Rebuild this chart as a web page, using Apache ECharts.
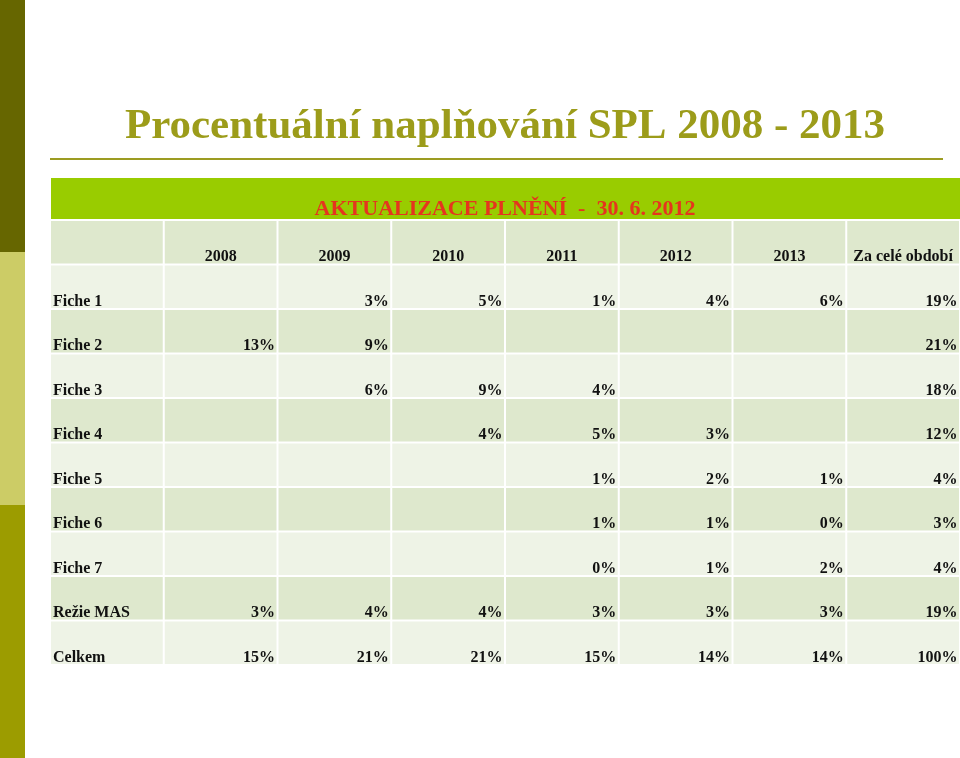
<!DOCTYPE html>
<html><head><meta charset="utf-8">
<script src="https://cdn.jsdelivr.net/npm/echarts@6/dist/echarts.min.js"></script>
<style>html,body{margin:0;padding:0;background:#fff}#c{width:960px;height:758px}</style>
</head><body><div id="c"></div>
<script>
const titleText = 'Procentuální naplňování SPL 2008 - 2013';
const bandText = 'AKTUALIZACE PLNĚNÍ  -  30. 6. 2012';
const columns = ['2008', '2009', '2010', '2011', '2012', '2013', 'Za celé období'];
const rowLabels = ['Fiche 1', 'Fiche 2', 'Fiche 3', 'Fiche 4', 'Fiche 5', 'Fiche 6', 'Fiche 7', 'Režie MAS', 'Celkem'];
const fiche1 = [null, 3, 5, 1, 4, 6, 19];
const fiche2 = [13, 9, null, null, null, null, 21];
const fiche3 = [null, 6, 9, 4, null, null, 18];
const fiche4 = [null, null, 4, 5, 3, null, 12];
const fiche5 = [null, null, null, 1, 2, 1, 4];
const fiche6 = [null, null, null, 1, 1, 0, 3];
const fiche7 = [null, null, null, 0, 1, 2, 4];
const rezieMAS = [3, 4, 4, 3, 3, 3, 19];
const celkem = [15, 21, 21, 15, 14, 14, 100];
const rowValues = [fiche1, fiche2, fiche3, fiche4, fiche5, fiche6, fiche7, rezieMAS, celkem];

const FONT = '"Liberation Serif", "DejaVu Serif", serif';
const darkRow = '#DEE8CD';
const lightRow = '#EEF3E6';

// build cells: [col, row] and texts
const cellData = [];
const cellText = [];
cellData.push([0, 0]); cellText.push('');
columns.forEach((c, i) => { cellData.push([i + 1, 0]); cellText.push(c); });
rowLabels.forEach((lab, r) => {
  cellData.push([0, r + 1]); cellText.push(lab);
  rowValues[r].forEach((v, i) => {
    cellData.push([i + 1, r + 1]);
    cellText.push(v === null ? '' : v + '%');
  });
});

const chart = echarts.init(document.getElementById('c'), null, {renderer: 'canvas'});
chart.setOption({
  animation: false,
  backgroundColor: '#ffffff',
  grid: {left: 50, right: 0, top: 220, bottom: 93},
  xAxis: {type: 'category', data: [''].concat(columns), show: false},
  yAxis: {type: 'category', data: [''].concat(rowLabels), inverse: true, show: false},
  graphic: [
    {type: 'rect', shape: {x: 0, y: 0, width: 25, height: 252}, style: {fill: '#666600'}},
    {type: 'rect', shape: {x: 0, y: 252, width: 25, height: 253}, style: {fill: '#CCCC66'}},
    {type: 'rect', shape: {x: 0, y: 505, width: 25, height: 253}, style: {fill: '#9C9C00'}},
    {type: 'text', x: 505, y: 148, style: {text: titleText, font: 'bold 43px ' + FONT, fill: '#9C9C1A', align: 'center', verticalAlign: 'bottom'}},
    {type: 'rect', shape: {x: 50, y: 158, width: 893, height: 2}, style: {fill: '#9C9C22'}},
    {type: 'rect', shape: {x: 51, y: 178, width: 909, height: 41}, style: {fill: '#99CC00'}},
    {type: 'text', x: 505, y: 220, style: {text: bandText, font: 'bold 22px ' + FONT, fill: '#E5351E', align: 'center', verticalAlign: 'bottom'}}
  ],
  series: [{
    type: 'custom',
    coordinateSystem: 'cartesian2d',
    data: cellData,
    encode: {x: 0, y: 1},
    renderItem: function (params, api) {
      const c = api.value(0), r = api.value(1);
      const pt = api.coord([c, r]);
      const sz = api.size([1, 1]);
      const x0 = pt[0] - sz[0] / 2, y0 = pt[1] - sz[1] / 2;
      const txt = cellText[params.dataIndex];
      let tx, align;
      if (c === 0) { tx = x0 + 3; align = 'left'; }
      else if (r === 0) { tx = pt[0]; align = 'center'; }
      else { tx = x0 + sz[0] - 2.5; align = 'right'; }
      return {
        type: 'group',
        children: [
          {type: 'rect', shape: {x: x0 + 1, y: y0 + 1, width: sz[0] - 2, height: sz[1] - 2},
            style: {fill: r % 2 === 0 ? darkRow : lightRow}},
          {type: 'text', x: tx, y: y0 + sz[1] + 0.5,
            style: {text: txt, font: 'bold 16px ' + FONT, fill: '#111111', align: align, verticalAlign: 'bottom'}}
        ]
      };
    }
  }]
});
</script>
</body></html>
